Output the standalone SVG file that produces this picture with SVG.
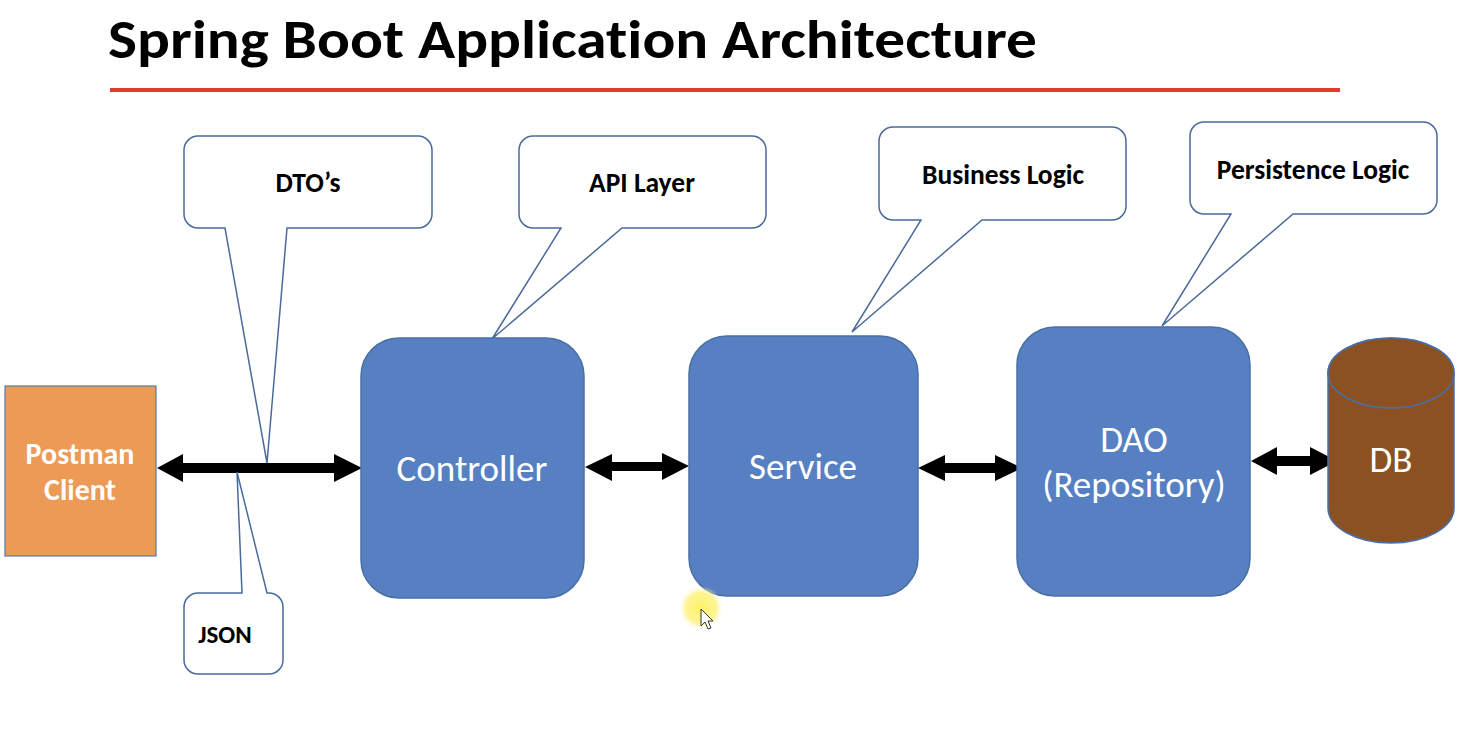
<svg xmlns="http://www.w3.org/2000/svg" width="1468" height="734" viewBox="0 0 1468 734">
<defs>
<style>
text{font-variant-ligatures:none}
.title{font-family:Carlito,"Open Sans","Liberation Sans",sans-serif;font-weight:bold;font-size:54px;fill:#000}
.box{fill:#5680c2;stroke:#4a6fa5;stroke-width:1.5}
.boxtxt{font-family:Carlito,"Open Sans","Liberation Sans",sans-serif;font-size:37px;fill:#fff;text-anchor:middle}
.call{fill:#fff;stroke:#4a6a9a;stroke-width:1.5;stroke-linejoin:miter}
.calltxt{font-family:Carlito,"Open Sans","Liberation Sans",sans-serif;font-weight:bold;font-size:27.5px;fill:#000;text-anchor:middle}
.arr{fill:#000}
</style>
<radialGradient id="glow">
<stop offset="0" stop-color="#fff066" stop-opacity="1"/>
<stop offset="0.7" stop-color="#fff27a" stop-opacity="0.8"/>
<stop offset="1" stop-color="#fffbd0" stop-opacity="0"/>
</radialGradient>
</defs>
<rect width="1468" height="734" fill="#fff"/>
<g id="title">
<text class="title" x="108" y="58" textLength="929" lengthAdjust="spacingAndGlyphs">Spring Boot Application Architecture</text>
<rect x="110" y="88" width="1230" height="4" fill="#e03c2c"/>
</g>
<g id="connectors">
<polygon class="arr" points="157,468 183,454 183,463 334,463 334,454 362,468 334,482 334,473 183,473 183,482"/>
<polygon class="arr" points="585,467 612,454 612,462 662,462 662,453 689,466 662,480 662,471 612,471 612,481"/>
<polygon class="arr" points="918,468 945,455 945,463 995,463 995,455 1022,468 995,481 995,473 945,473 945,481"/>
<polygon class="arr" points="1251,461 1277,447 1277,456 1310,456 1310,447 1337,461 1310,475 1310,466 1277,466 1277,475"/>
</g>
<g id="postman">
<rect x="5" y="386" width="151" height="170" fill="#ec9a56" stroke="#5a78a8" stroke-width="1.2"/>
<text class="calltxt" x="80" y="464" style="fill:#fff;font-size:30px">Postman</text>
<text class="calltxt" x="80" y="500" style="fill:#fff;font-size:30px">Client</text>
</g>
<g id="controller">
<rect class="box" x="361" y="338" width="223" height="260" rx="38" ry="38"/>
<text class="boxtxt" x="472" y="481">Controller</text>
</g>
<g id="service">
<rect class="box" x="689" y="336" width="229" height="260" rx="38" ry="38"/>
<text class="boxtxt" x="803" y="479">Service</text>
</g>
<g id="dao">
<rect class="box" x="1017" y="327" width="233" height="269" rx="38" ry="38"/>
<text class="boxtxt" x="1134" y="452">DAO</text>
<text class="boxtxt" x="1134" y="497">(Repository)</text>
</g>
<g id="db">
<path d="M1328,373 V508 A63,35 0 0 0 1454,508 V373 A63,35 0 0 0 1328,373 Z" fill="#8b5122" stroke="#4a6fa5" stroke-width="1.5"/>
<ellipse cx="1391" cy="373" rx="63" ry="35" fill="#8b5122" stroke="#4a6fa5" stroke-width="1.5"/>
<text class="boxtxt" x="1391" y="472">DB</text>
</g>
<g id="callout-dtos">
<path class="call" d="M198,136 H418 A14,14 0 0 1 432,150 V214 A14,14 0 0 1 418,228 H287 L267,463 L225,228 H198 A14,14 0 0 1 184,214 V150 A14,14 0 0 1 198,136 Z"/>
<text class="calltxt" x="308" y="192">DTO’s</text>
</g>
<g id="callout-json">
<path class="call" d="M198,593 H242 L237,472 L267,593 H269 A14,14 0 0 1 283,607 V660 A14,14 0 0 1 269,674 H198 A14,14 0 0 1 184,660 V607 A14,14 0 0 1 198,593 Z"/>
<text class="calltxt" x="225" y="643" style="font-size:25px">JSON</text>
</g>
<g id="callout-api">
<path class="call" d="M533,136 H752 A14,14 0 0 1 766,150 V214 A14,14 0 0 1 752,228 H622 L492,339 L561,228 H533 A14,14 0 0 1 519,214 V150 A14,14 0 0 1 533,136 Z"/>
<text class="calltxt" x="642" y="192">API Layer</text>
</g>
<g id="callout-business">
<path class="call" d="M893,127 H1112 A14,14 0 0 1 1126,141 V206 A14,14 0 0 1 1112,220 H982 L852,332 L921,220 H893 A14,14 0 0 1 879,206 V141 A14,14 0 0 1 893,127 Z"/>
<text class="calltxt" x="1003" y="184">Business Logic</text>
</g>
<g id="callout-persistence">
<path class="call" d="M1204,122 H1423 A14,14 0 0 1 1437,136 V200 A14,14 0 0 1 1423,214 H1293 L1162,326 L1231,214 H1204 A14,14 0 0 1 1190,200 V136 A14,14 0 0 1 1204,122 Z"/>
<text class="calltxt" x="1313" y="179">Persistence Logic</text>
</g>
<g id="cursor">
<circle cx="701" cy="608" r="22" fill="url(#glow)"/>
<polygon points="701,609 701,626 705,622 708,629 711,628 708,621 713,621" fill="#fff" stroke="#333" stroke-width="1"/>
</g>
</svg>
